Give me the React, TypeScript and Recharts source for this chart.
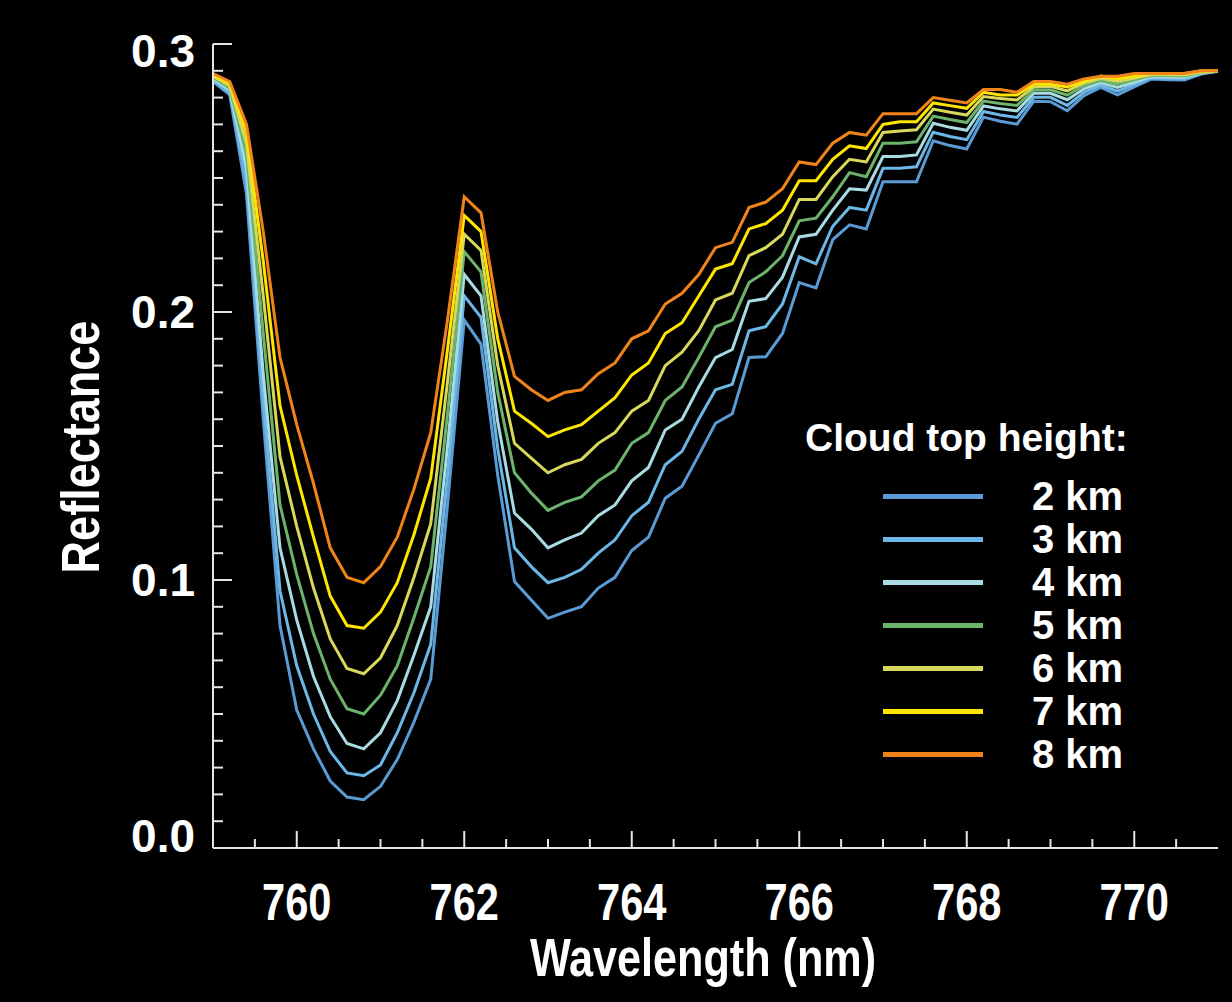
import { LineChart, Line, XAxis, YAxis, Legend } from "recharts";

// wavelength grid (nm)
const wavelength = [
  759, 759.2, 759.4, 759.6, 759.8, 760, 760.2, 760.4, 760.6, 760.8, 761,
  761.2, 761.4, 761.6, 761.8, 762, 762.2, 762.4, 762.6, 762.8, 763,
  763.2, 763.4, 763.6, 763.8, 764, 764.2, 764.4, 764.6, 764.8, 765,
  765.2, 765.4, 765.6, 765.8, 766, 766.2, 766.4, 766.6, 766.8, 767,
  767.2, 767.4, 767.6, 767.8, 768, 768.2, 768.4, 768.6, 768.8, 769,
  769.2, 769.4, 769.6, 769.8, 770, 770.2, 770.4, 770.6, 770.8, 771,
];

// reflectance per cloud top height
const km2 = [
  0.286, 0.281, 0.244, 0.16, 0.083, 0.0515, 0.037, 0.025, 0.019, 0.018, 0.023,
  0.033, 0.047, 0.063, 0.128, 0.197, 0.188, 0.139, 0.0994, 0.0925, 0.0857,
  0.088, 0.09, 0.097, 0.101, 0.111, 0.116, 0.1305, 0.135, 0.1466, 0.1585,
  0.162, 0.183, 0.1833, 0.192, 0.211, 0.209, 0.227, 0.2325, 0.231, 0.2486,
  0.2486, 0.2486, 0.2639, 0.2621, 0.2608, 0.2727, 0.2712, 0.2701, 0.2786, 0.2785,
  0.2751, 0.2807, 0.2838, 0.281, 0.284, 0.2869, 0.2867, 0.2866, 0.2888, 0.2898,
];
const km3 = [
  0.2865, 0.282, 0.249, 0.168, 0.096, 0.068, 0.05, 0.036, 0.028, 0.027, 0.031,
  0.043, 0.058, 0.076, 0.139, 0.206, 0.198, 0.149, 0.112, 0.105, 0.099,
  0.101, 0.104, 0.11, 0.115, 0.124, 0.129, 0.143, 0.148, 0.16, 0.171,
  0.173, 0.193, 0.1945, 0.203, 0.2206, 0.218, 0.232, 0.239, 0.238, 0.2536,
  0.2536, 0.2542, 0.2671, 0.2655, 0.2643, 0.2748, 0.2735, 0.2726, 0.2801, 0.2801,
  0.2771, 0.282, 0.2847, 0.2824, 0.2849, 0.2874, 0.2872, 0.2871, 0.289, 0.2898,
];
const km4 = [
  0.287, 0.2828, 0.254, 0.177, 0.112, 0.085, 0.064, 0.049, 0.039, 0.037, 0.043,
  0.055, 0.072, 0.09, 0.15, 0.214, 0.206, 0.159, 0.125, 0.119, 0.112,
  0.115, 0.1175, 0.124, 0.128, 0.137, 0.142, 0.156, 0.16, 0.172, 0.183,
  0.186, 0.204, 0.205, 0.213, 0.228, 0.229, 0.238, 0.246, 0.2455, 0.258,
  0.258, 0.2586, 0.2704, 0.2689, 0.2678, 0.2769, 0.2758, 0.275, 0.2816, 0.2816,
  0.2792, 0.2833, 0.2856, 0.2838, 0.2858, 0.2878, 0.2877, 0.2876, 0.2892, 0.2899,
];
const km5 = [
  0.2875, 0.2836, 0.259, 0.192, 0.128, 0.102, 0.08, 0.063, 0.052, 0.05, 0.057,
  0.068, 0.086, 0.105, 0.162, 0.2225, 0.215, 0.17, 0.14, 0.1325, 0.126,
  0.129, 0.131, 0.137, 0.141, 0.151, 0.155, 0.167, 0.172, 0.183, 0.1945,
  0.197, 0.211, 0.215, 0.221, 0.234, 0.235, 0.243, 0.252, 0.2505, 0.263,
  0.263, 0.2635, 0.2731, 0.2718, 0.2707, 0.2787, 0.2778, 0.2771, 0.2828, 0.2829,
  0.2809, 0.2845, 0.2864, 0.2849, 0.2866, 0.2882, 0.2882, 0.2881, 0.2894, 0.2899,
];
const km6 = [
  0.288, 0.2844, 0.263, 0.206, 0.146, 0.12, 0.097, 0.078, 0.067, 0.065, 0.071,
  0.083, 0.101, 0.121, 0.174, 0.229, 0.223, 0.18, 0.151, 0.1455, 0.14,
  0.143, 0.145, 0.151, 0.155, 0.163, 0.167, 0.18, 0.185, 0.193, 0.2045,
  0.207, 0.221, 0.224, 0.229, 0.242, 0.242, 0.2505, 0.257, 0.256, 0.267,
  0.2675, 0.268, 0.2757, 0.2745, 0.2735, 0.2804, 0.2797, 0.2791, 0.284, 0.2842,
  0.2825, 0.2855, 0.2872, 0.286, 0.2873, 0.2886, 0.2886, 0.2885, 0.2895, 0.2899,
];
const km7 = [
  0.2885, 0.2852, 0.267, 0.219, 0.165, 0.139, 0.116, 0.094, 0.083, 0.082, 0.088,
  0.099, 0.117, 0.138, 0.186, 0.236, 0.23, 0.19, 0.163, 0.1585, 0.1535,
  0.156, 0.158, 0.163, 0.168, 0.1765, 0.181, 0.192, 0.196, 0.206, 0.216,
  0.218, 0.231, 0.233, 0.238, 0.249, 0.249, 0.257, 0.262, 0.261, 0.27,
  0.271, 0.271, 0.278, 0.277, 0.276, 0.282, 0.281, 0.281, 0.285, 0.285,
  0.284, 0.286, 0.288, 0.287, 0.288, 0.289, 0.289, 0.289, 0.29, 0.29,
];
const km8 = [
  0.289, 0.286, 0.27, 0.23, 0.183, 0.158, 0.136, 0.112, 0.101, 0.099, 0.105,
  0.116, 0.134, 0.155, 0.197, 0.243, 0.237, 0.2, 0.176, 0.171, 0.167,
  0.17, 0.171, 0.177, 0.181, 0.19, 0.193, 0.203, 0.207, 0.214, 0.224,
  0.226, 0.239, 0.241, 0.246, 0.256, 0.255, 0.263, 0.267, 0.266, 0.274,
  0.274, 0.274, 0.28, 0.279, 0.278, 0.283, 0.283, 0.282, 0.286, 0.286,
  0.285, 0.287, 0.288, 0.288, 0.289, 0.289, 0.289, 0.289, 0.29, 0.29,
];

const seriesKeys = ["km2", "km3", "km4", "km5", "km6", "km7", "km8"];
const seriesNames = ["2 km", "3 km", "4 km", "5 km", "6 km", "7 km", "8 km"];
const seriesColors = ["#5b9bd5", "#6bb7e6", "#a9dbe3", "#6cb36c", "#d8d85c", "#ffe600", "#f0841a"];

const xTicks = [
  759.5, 760, 760.5, 761, 761.5, 762, 762.5, 763, 763.5, 764, 764.5,
  765, 765.5, 766, 766.5, 767, 767.5, 768, 768.5, 769, 769.5, 770, 770.5,
];
const yTicks = [
  0, 0.01, 0.02, 0.03, 0.04, 0.05, 0.06, 0.07, 0.08, 0.09, 0.1,
  0.11, 0.12, 0.13, 0.14, 0.15, 0.16, 0.17, 0.18, 0.19, 0.2,
  0.21, 0.22, 0.23, 0.24, 0.25, 0.26, 0.27, 0.28, 0.29, 0.3,
];

const all = [km2, km3, km4, km5, km6, km7, km8];
const rows = wavelength.map((w, i) => {
  const r: any = { w };
  seriesKeys.forEach((k, j) => (r[k] = all[j][i]));
  return r;
});

const AXIS = "#e6e6e6";
const FONT = "'Liberation Sans', Arial, Helvetica, sans-serif";

const isMajorX = (v: number) => Math.abs(v - Math.round(v)) < 1e-6 && Math.round(v) % 2 === 0;
const isMajorY = (v: number) => Math.round(v * 100) % 10 === 0;

function BottomTick({ x, y, payload }: any) {
  const v = payload.value;
  const major = isMajorX(v);
  return (
    <g>
      <line x1={x} x2={x} y1={y} y2={y - (major ? 17 : 9)} stroke={AXIS} strokeWidth={2} />
      {major && (
        <text
          transform={`translate(${x} ${y + 72}) scale(0.8 1)`}
          textAnchor="middle"
          fill="#fff"
          fontFamily={FONT}
          fontWeight={700}
          fontSize={52}
        >
          {v}
        </text>
      )}
    </g>
  );
}

function TopTick({ x, y, payload }: any) {
  const major = isMajorX(payload.value);
  return <line x1={x} x2={x} y1={y} y2={y + (major ? 17 : 9)} stroke={AXIS} strokeWidth={2} />;
}

function LeftTick({ x, y, payload }: any) {
  const v = payload.value;
  const major = isMajorY(v);
  const shift = v === 0 ? -12 : v === 0.3 ? 7 : 0;
  return (
    <g>
      <line x1={x} x2={x + (major ? 19 : 10)} y1={y} y2={y} stroke={AXIS} strokeWidth={2} />
      {major && (
        <text
          x={x - 18}
          y={y + shift + 16}
          textAnchor="end"
          fill="#fff"
          fontFamily={FONT}
          fontWeight={700}
          fontSize={46}
        >
          {v.toFixed(1)}
        </text>
      )}
    </g>
  );
}

function RightTick({ x, y, payload }: any) {
  const major = isMajorY(payload.value);
  return <line x1={x} x2={x - (major ? 19 : 10)} y1={y} y2={y} stroke={AXIS} strokeWidth={2} />;
}

function HeightLegend() {
  return (
    <div style={{ fontFamily: FONT, fontWeight: 700, color: "#fff" }}>
      <div style={{ fontSize: 39, lineHeight: "44px", whiteSpace: "nowrap" }}>Cloud top height:</div>
      <div style={{ marginTop: 15 }}>
        {seriesNames.map((name, i) => (
          <div key={name} style={{ display: "flex", alignItems: "center", height: 43 }}>
            <span style={{ display: "inline-block", width: 100, height: 5, marginLeft: 78, background: seriesColors[i] }} />
            <span style={{ marginLeft: 49, fontSize: 40, lineHeight: "43px" }}>{name}</span>
          </div>
        ))}
      </div>
    </div>
  );
}

export default function App() {
  return (
    <div style={{ position: "absolute", left: 0, top: 0, width: 1232, height: 1002, background: "#000" }}>
      <LineChart
        width={1232}
        height={1002}
        data={rows}
        margin={{ top: 44, right: 14, bottom: 4, left: 13 }}
      >
        <XAxis
          dataKey="w"
          type="number"
          domain={[759, 771]}
          ticks={xTicks}
          interval={0}
          height={150}
          tickSize={0}
          tickMargin={0}
          tickLine={false}
          axisLine={{ stroke: AXIS, strokeWidth: 2 }}
          tick={<BottomTick />}
          label={{
            content: () => (
              <text
                transform="translate(703 976) scale(0.8 1)"
                textAnchor="middle"
                fill="#fff"
                fontFamily={FONT}
                fontWeight={700}
                fontSize={54}
              >
                Wavelength (nm)
              </text>
            ),
          }}
        />
        <XAxis
          xAxisId="top"
          orientation="top"
          dataKey="w"
          type="number"
          domain={[759, 771]}
          ticks={xTicks}
          interval={0}
          height={0}
          tickSize={0}
          tickMargin={0}
          tickLine={false}
          axisLine={{ stroke: AXIS, strokeWidth: 2 }}
          tick={<TopTick />}
        />
        <YAxis
          type="number"
          domain={[0, 0.3]}
          ticks={yTicks}
          interval={0}
          width={200}
          tickSize={0}
          tickMargin={0}
          tickLine={false}
          axisLine={{ stroke: AXIS, strokeWidth: 2 }}
          tick={<LeftTick />}
          label={{
            content: () => (
              <text
                transform="translate(99 447) rotate(-90) scale(0.85 1)"
                textAnchor="middle"
                fill="#fff"
                fontFamily={FONT}
                fontWeight={700}
                fontSize={53}
              >
                Reflectance
              </text>
            ),
          }}
        />
        <YAxis
          yAxisId="right"
          orientation="right"
          type="number"
          domain={[0, 0.3]}
          ticks={yTicks}
          interval={0}
          width={0}
          tickSize={0}
          tickMargin={0}
          tickLine={false}
          axisLine={{ stroke: AXIS, strokeWidth: 2 }}
          tick={<RightTick />}
        />
        {seriesKeys.map((k, i) => (
          <Line
            key={k}
            dataKey={k}
            name={seriesNames[i]}
            type="linear"
            stroke={seriesColors[i]}
            strokeWidth={3}
            dot={false}
            activeDot={false}
            isAnimationActive={false}
          />
        ))}
        <Legend
          layout="vertical"
          align="center"
          verticalAlign="middle"
          wrapperStyle={{ position: "absolute", left: 805, top: 416, width: 360 }}
          content={() => <HeightLegend />}
        />
      </LineChart>
    </div>
  );
}
